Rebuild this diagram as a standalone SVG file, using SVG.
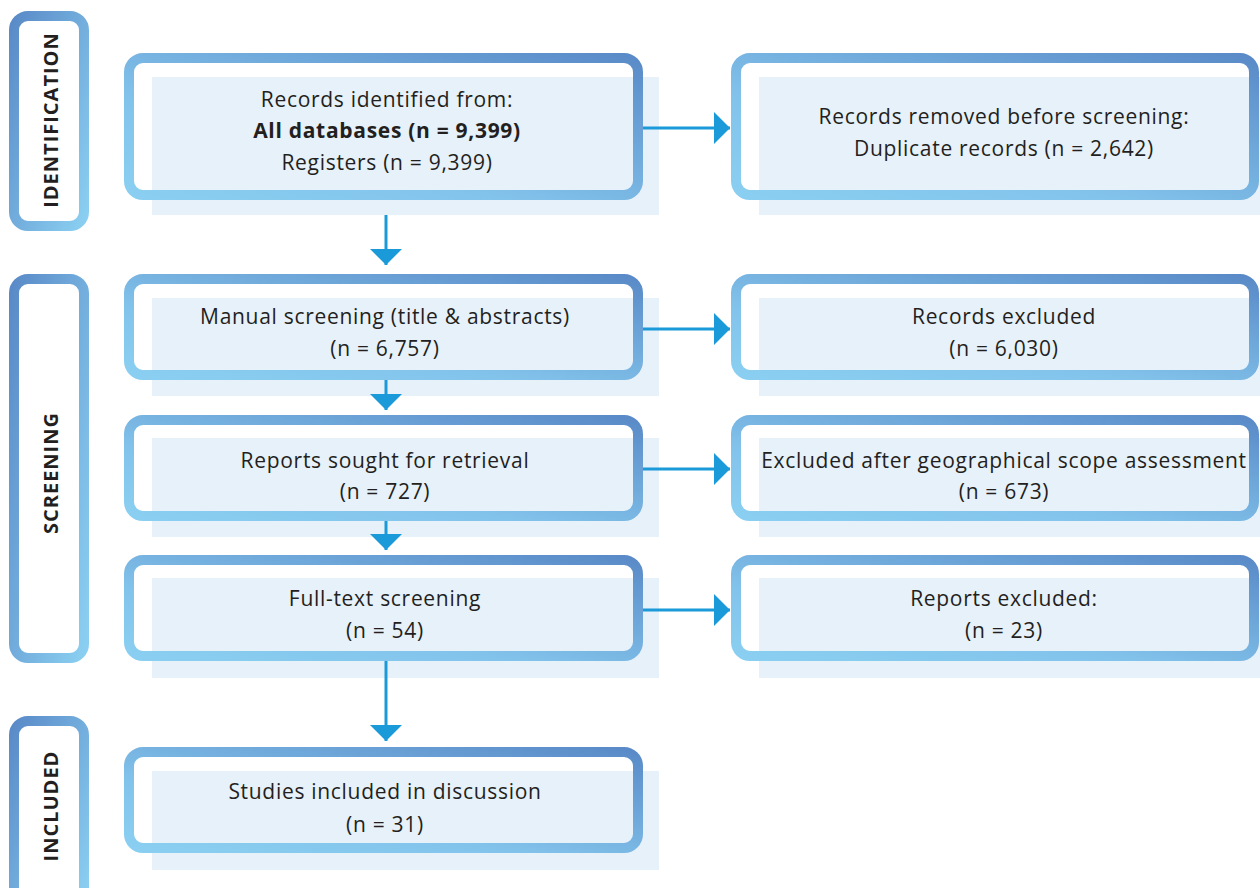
<svg xmlns="http://www.w3.org/2000/svg" width="1260" height="888" viewBox="0 0 1260 888">
<defs>
<linearGradient id="gBox" x1="0" y1="1" x2="1" y2="0">
<stop offset="0" stop-color="#8ACFF1"/>
<stop offset="0.35" stop-color="#82C3EB"/>
<stop offset="1" stop-color="#5A8BC8"/>
</linearGradient>
<linearGradient id="gLab" x1="0" y1="0" x2="1" y2="1">
<stop offset="0" stop-color="#5A8BC8"/>
<stop offset="1" stop-color="#8ACFF1"/>
</linearGradient>
<marker id="ah" viewBox="0 0 16 32" refX="16" refY="16" markerWidth="16" markerHeight="32" markerUnits="userSpaceOnUse" orient="auto">
<path d="M0,0 L16,16 L0,32 Z" fill="#1A9AD8"/>
</marker>
</defs>
<style>
.bg{fill:#E7F1FA}
.box{fill:none;stroke:url(#gBox);stroke-width:10}
.lab{fill:#fff;stroke:url(#gLab);stroke-width:10}
.t{font-family:"Open Sans","Liberation Sans",sans-serif;font-size:21px;letter-spacing:0.7px;fill:#231F20;text-anchor:middle}
.b{font-weight:bold}
.lt{font-family:"Open Sans","Liberation Sans",sans-serif;font-size:20px;font-weight:bold;fill:#231F20;text-anchor:middle;letter-spacing:1px}
.c{stroke:#1A9AD8;stroke-width:3;fill:none;marker-end:url(#ah)}
</style>
<rect width="1260" height="888" fill="#fff"/>

<g id="label-identification">
<rect class="lab" x="14" y="16" width="70" height="210" rx="14"/>
<text class="lt" transform="translate(58,120) rotate(-90)">IDENTIFICATION</text>
</g>
<g id="label-screening">
<rect class="lab" x="14" y="279" width="70" height="379" rx="14"/>
<text class="lt" transform="translate(58,473) rotate(-90)">SCREENING</text>
</g>
<g id="label-included">
<rect class="lab" x="14" y="721" width="70" height="180" rx="14"/>
<text class="lt" transform="translate(58,806) rotate(-90)">INCLUDED</text>
</g>

<g id="identified">
<rect class="bg" x="152" y="77" width="507" height="138"/>
<rect class="box" x="129" y="58" width="509" height="137" rx="14"/>
<text class="t" x="387" y="107">Records identified from:</text>
<text class="t b" x="387" y="138">All databases (n = 9,399)</text>
<text class="t" x="387" y="170">Registers (n = 9,399)</text>
</g>
<g id="removed">
<rect class="bg" x="759" y="77" width="501" height="138"/>
<rect class="box" x="736" y="58" width="518" height="137" rx="14"/>
<text class="t" x="1004" y="124">Records removed before screening:</text>
<text class="t" x="1004" y="156">Duplicate records (n = 2,642)</text>
</g>

<g id="manual-screening">
<rect class="bg" x="152" y="298" width="507" height="98"/>
<rect class="box" x="129" y="279" width="509" height="96" rx="14"/>
<text class="t" x="385" y="324">Manual screening (title &amp; abstracts)</text>
<text class="t" x="385" y="356">(n = 6,757)</text>
</g>
<g id="records-excluded">
<rect class="bg" x="759" y="298" width="501" height="98"/>
<rect class="box" x="736" y="279" width="518" height="96" rx="14"/>
<text class="t" x="1004" y="324">Records excluded</text>
<text class="t" x="1004" y="356">(n = 6,030)</text>
</g>

<g id="reports-sought">
<rect class="bg" x="152" y="438" width="507" height="99"/>
<rect class="box" x="129" y="420" width="509" height="96" rx="14"/>
<text class="t" x="385" y="468">Reports sought for retrieval</text>
<text class="t" x="385" y="499">(n = 727)</text>
</g>
<g id="geo-excluded">
<rect class="bg" x="759" y="438" width="501" height="99"/>
<rect class="box" x="736" y="420" width="518" height="96" rx="14"/>
<text class="t" x="1004" y="468">Excluded after geographical scope assessment</text>
<text class="t" x="1004" y="499">(n = 673)</text>
</g>

<g id="full-text">
<rect class="bg" x="152" y="578" width="507" height="100"/>
<rect class="box" x="129" y="560" width="509" height="96" rx="14"/>
<text class="t" x="385" y="606">Full-text screening</text>
<text class="t" x="385" y="638">(n = 54)</text>
</g>
<g id="reports-excluded">
<rect class="bg" x="759" y="578" width="501" height="100"/>
<rect class="box" x="736" y="560" width="518" height="96" rx="14"/>
<text class="t" x="1004" y="606">Reports excluded:</text>
<text class="t" x="1004" y="638">(n = 23)</text>
</g>

<g id="studies-included">
<rect class="bg" x="152" y="771" width="507" height="99"/>
<rect class="box" x="129" y="752" width="509" height="96" rx="14"/>
<text class="t" x="385" y="799">Studies included in discussion</text>
<text class="t" x="385" y="832">(n = 31)</text>
</g>

<g id="connectors">
<path class="c" d="M643,128 H730"/>
<path class="c" d="M643,329 H730"/>
<path class="c" d="M643,469 H730"/>
<path class="c" d="M643,610 H730"/>
<path class="c" d="M386,215 V265"/>
<path class="c" d="M386,380 V410"/>
<path class="c" d="M386,521 V550"/>
<path class="c" d="M386,661 V741"/>
</g>
</svg>
